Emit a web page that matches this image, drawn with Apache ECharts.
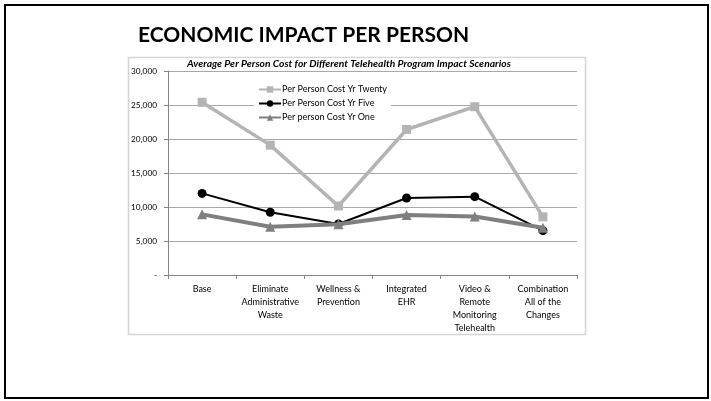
<!DOCTYPE html>
<html>
<head>
<meta charset="utf-8">
<script src="https://cdn.jsdelivr.net/npm/echarts@6/dist/echarts.min.js"></script>
<style>
html,body{margin:0;padding:0;background:#fff;}
#c{width:711px;height:401px;}
</style>
</head>
<body>
<div id="c"></div>
<script>
var categories = ['Base', 'Eliminate\nAdministrative\nWaste', 'Wellness &\nPrevention', 'Integrated\nEHR', 'Video &\nRemote\nMonitoring\nTelehealth', 'Combination\nAll of the\nChanges'];
var yrTwenty = [25400, 19100, 10150, 21400, 24750, 8550];
var yrFive = [12000, 9220, 7500, 11320, 11520, 6520];
var yrOne = [8920, 7100, 7450, 8820, 8600, 6950];
var seriesNames = ['Per Person Cost Yr Twenty', 'Per Person Cost Yr Five', 'Per person Cost Yr One'];
var yTicks = {min: 0, max: 30000, interval: 5000};

var font = 'Lato, "Open Sans", sans-serif';
var chart = echarts.init(document.getElementById('c'), null, {renderer: 'canvas'});
chart.setOption({
  animation: false,
  backgroundColor: '#fff',
  textStyle: {fontFamily: font},
  graphic: [
    {type: 'rect', shape: {x: 5, y: 5, width: 703, height: 393}, style: {fill: 'none', stroke: '#000', lineWidth: 2}, z: -1},
    {type: 'rect', shape: {x: 128.5, y: 57.5, width: 457, height: 277}, style: {fill: 'none', stroke: '#d4d4d4', lineWidth: 1.5}, z: -1}
  ],
  title: [
    {text: 'ECONOMIC IMPACT PER PERSON', left: 138, top: 25,
     textStyle: {fontFamily: font, fontWeight: 'bold', fontSize: 21, color: '#000'}, padding: 0},
    {text: 'Average Per Person Cost for Different Telehealth Program Impact Scenarios', left: 184, top: 58,
     backgroundColor: '#fff', padding: [1, 3, 1, 3], z: 10,
     textStyle: {fontFamily: font, fontWeight: 'bold', fontStyle: 'italic', fontSize: 10.3, color: '#000'}}
  ],
  legend: {
    orient: 'vertical', left: 254, top: 85, backgroundColor: '#fff', padding: [0, 4, 0, 4],
    itemWidth: 22, itemHeight: 8, itemGap: 5, z: 10,
    textStyle: {fontFamily: font, fontSize: 9, color: '#000', padding: [0, 0, 0, -4]},
    data: seriesNames
  },
  grid: {left: 168, right: 134, top: 71, bottom: 126, containLabel: false},
  xAxis: {
    type: 'category', data: categories, boundaryGap: true,
    axisLine: {lineStyle: {color: '#868686', width: 1}},
    axisTick: {show: true, length: 4, lineStyle: {color: '#868686'}},
    axisLabel: {fontFamily: font, fontSize: 9, color: '#000', lineHeight: 13, margin: 8, interval: 0}
  },
  yAxis: {
    type: 'value', min: yTicks.min, max: yTicks.max, interval: yTicks.interval,
    axisLine: {show: true, lineStyle: {color: '#868686', width: 1}},
    axisTick: {show: true, length: 4, lineStyle: {color: '#868686'}},
    splitLine: {lineStyle: {color: '#a8a8a8', width: 1}},
    axisLabel: {fontFamily: font, fontSize: 8.3, color: '#000', margin: 11,
      formatter: function (v) { return v === 0 ? '-' : v.toLocaleString('en-US'); }}
  },
  series: [
    {name: seriesNames[0], type: 'line', data: yrTwenty, symbol: 'rect', symbolSize: 9,
     lineStyle: {color: '#b4b4b4', width: 3.5}, itemStyle: {color: '#b4b4b4'}, z: 2},
    {name: seriesNames[1], type: 'line', data: yrFive, symbol: 'circle', symbolSize: 9,
     lineStyle: {color: '#000', width: 2}, itemStyle: {color: '#000'}, z: 3},
    {name: seriesNames[2], type: 'line', data: yrOne, symbol: 'triangle', symbolSize: 10,
     lineStyle: {color: '#7f7f7f', width: 4}, itemStyle: {color: '#7f7f7f'}, z: 4}
  ]
});
</script>
</body>
</html>
